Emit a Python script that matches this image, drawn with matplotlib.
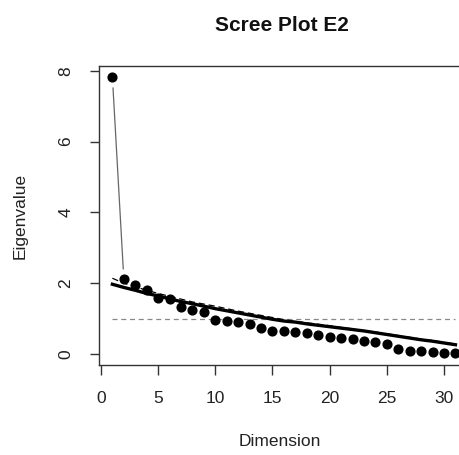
import matplotlib
matplotlib.use("Agg")
import matplotlib.pyplot as plt

plt.rcParams["font.family"] = ["Liberation Sans", "DejaVu Sans"]

# eigenvalues of the observed data
dimension = list(range(1, 32))
eigenvalue = [7.83, 2.12, 1.95, 1.81, 1.59, 1.54, 1.34, 1.24, 1.19, 0.96,
              0.93, 0.91, 0.84, 0.72, 0.65, 0.65, 0.62, 0.58, 0.54, 0.49,
              0.46, 0.42, 0.37, 0.33, 0.28, 0.13, 0.07, 0.07, 0.05, 0.02,
              0.02]

# simulated (parallel analysis) eigenvalues: mean and upper quantile
sim_mean = [1.97, 1.88, 1.80, 1.71, 1.64, 1.56, 1.48, 1.42, 1.35, 1.28,
            1.22, 1.16, 1.10, 1.04, 0.98, 0.93, 0.90, 0.85, 0.81, 0.77,
            0.73, 0.69, 0.65, 0.60, 0.55, 0.50, 0.45, 0.40, 0.36, 0.31,
            0.26]
sim_upper = [2.14, 2.00, 1.90, 1.80, 1.71, 1.63, 1.55, 1.47, 1.41, 1.35,
             1.28, 1.21, 1.15, 1.09, 1.03, 0.97, 0.92, 0.88, 0.84, 0.80,
             0.75, 0.71, 0.66, 0.62, 0.57, 0.52, 0.47, 0.42, 0.38, 0.33,
             0.28]

kaiser = 1.0
x_ticks = [0, 5, 10, 15, 20, 25, 30]
y_ticks = [0, 2, 4, 6, 8]

fig = plt.figure(figsize=(4.59, 4.55), dpi=100)
ax = fig.add_axes([0.2157, 0.198, 0.789, 0.657])

# kaiser criterion line
ax.plot([dimension[0], dimension[-1]], [kaiser, kaiser], color="#888888",
        lw=0.9, ls=(0, (4, 3)))

# simulated eigenvalue curves
ax.plot(dimension, sim_upper, color="black", lw=0.9, ls=(0, (5, 3)))
ax.plot(dimension, sim_mean, color="black", lw=2.4)

# observed eigenvalues, R type="b": the connecting line has gaps at the points,
# so only the long first segment is visible
t0, t1 = 0.055, 0.95
x0, x1 = dimension[0], dimension[1]
y0, y1 = eigenvalue[0], eigenvalue[1]
ax.plot([x0 + t0 * (x1 - x0), x0 + t1 * (x1 - x0)],
        [y0 + t0 * (y1 - y0), y0 + t1 * (y1 - y0)], color="#666666", lw=0.9)
ax.plot(dimension, eigenvalue, "o", color="black", ms=6.3, mec="black")

ax.set_xlim(-0.17, 31.5)
ax.set_ylim(-0.31, 8.14)
ax.set_xticks(x_ticks)
ax.set_yticks(y_ticks)
ax.set_yticklabels([str(v) for v in y_ticks], rotation=90, va="center")

for s in ax.spines.values():
    s.set_color("#333333")
    s.set_linewidth(1.0)

ax.tick_params(axis="x", length=7, width=1.0, color="#333333", pad=12,
               labelsize=12.5, labelcolor="#222222")
ax.tick_params(axis="y", length=6.5, width=1.0, color="#333333", pad=12,
               labelsize=12.5, labelcolor="#222222")

ax.set_xlabel("Dimension", fontsize=12.5, color="#222222", labelpad=20)
ax.set_ylabel("Eigenvalue", fontsize=12.5, color="#222222", labelpad=22)
fig.text(0.615, 0.945, "Scree Plot E2", ha="center", va="center",
         fontsize=15, fontweight="bold", color="#111111")

fig.savefig("out.png", dpi=100)
